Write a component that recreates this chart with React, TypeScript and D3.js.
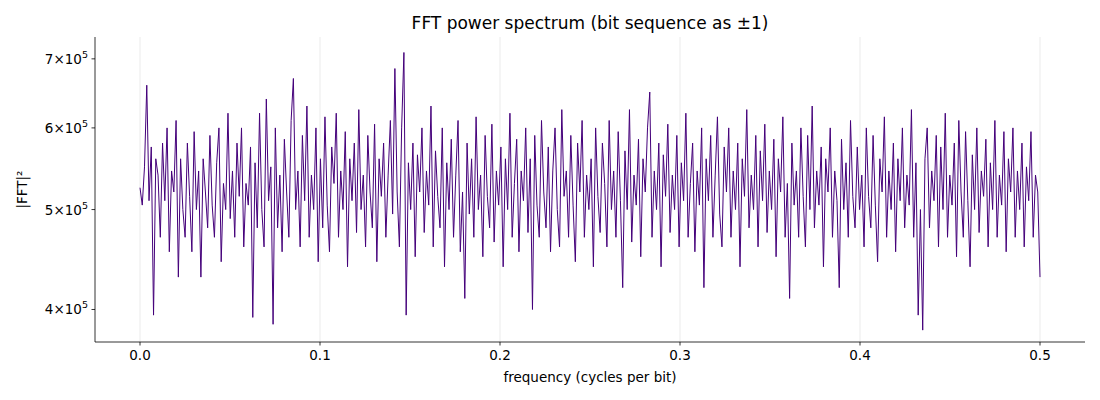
import * as d3 from "d3";

// power values in units of 1e3
const power: number[] = [
  525,505,550,660,510,575,395,560,540,470,580,510,600,455,545,520,610,430,560,500,
  470,580,515,455,595,500,545,430,560,520,480,590,505,470,555,600,445,530,500,620,
  490,545,470,580,515,600,460,530,505,575,393,555,480,620,500,460,640,510,550,387,
  600,480,540,455,585,520,470,610,670,500,545,460,590,510,630,470,540,500,600,445,
  560,480,615,505,455,575,530,620,470,545,500,595,440,560,510,580,475,625,500,540,
  460,590,520,480,605,445,560,515,580,470,540,610,495,685,520,460,600,710,395,555,
  500,580,450,565,520,600,475,545,505,630,460,570,515,480,600,440,555,500,585,470,
  540,610,455,520,410,580,495,560,470,615,500,540,450,590,515,480,605,465,545,505,
  575,440,560,500,620,470,530,585,455,545,510,600,475,560,400,590,505,470,610,520,
  480,575,455,545,600,500,460,625,515,545,470,590,505,445,580,520,610,470,540,500,
  560,440,600,515,475,580,530,460,610,500,545,470,595,510,420,570,500,625,465,540,
  505,585,450,560,520,600,650,470,545,500,580,440,565,515,605,475,540,500,590,460,
  555,510,620,470,530,580,455,545,505,600,420,560,510,590,470,540,615,495,460,575,
  520,600,470,545,500,580,440,560,515,625,480,540,500,590,460,570,510,605,475,545,
  500,585,450,560,520,615,470,530,410,580,505,545,470,600,515,460,590,500,630,480,
  545,505,575,440,560,520,600,470,545,510,420,585,500,555,470,610,515,480,575,500,
  540,460,600,515,480,590,505,445,560,520,615,470,545,500,580,455,560,510,600,480,
  540,505,625,470,555,395,500,382,560,600,480,545,510,590,460,575,500,620,470,540,
  505,580,450,610,520,470,595,510,440,565,500,600,475,545,515,585,460,555,500,610,
  470,540,505,595,455,560,520,600,470,545,500,580,460,550,510,595,470,540,520,430,
];
const xTicks = [0, 0.1, 0.2, 0.3, 0.4, 0.5];
const yTicks = [4, 5, 6, 7];

const W = 1100, H = 400;
const m = { left: 95, top: 37, right: 1085, bottom: 342 };

export default function App() {
  const x = d3.scaleLinear().domain([-0.025, 0.525]).range([m.left, m.right]);
  const y = d3.scaleLog().domain([3.72e5, 7.35e5]).range([m.bottom, m.top]);
  const n = power.length;
  const line = d3
    .line<number>()
    .x((_, i) => x((i / (n - 1)) * 0.5))
    .y((d) => y(d * 1000));
  const font = "DejaVu Sans, sans-serif";
  return (
    <svg width={W} height={H} style={{ position: "absolute", left: 0, top: 0 }} fontFamily={font}>
      <rect width={W} height={H} fill="#fff" />
      {xTicks.map((t) => (
        <line key={t} x1={x(t)} x2={x(t)} y1={m.top} y2={m.bottom} stroke="#e6e6e6" strokeWidth={0.8} />
      ))}
      <path d={line(power) || ""} fill="none" stroke="#44007a" strokeWidth={1} />
      <line x1={m.left} x2={m.left} y1={m.top} y2={m.bottom} stroke="#000" strokeWidth={0.8} />
      <line x1={m.left} x2={m.right} y1={m.bottom} y2={m.bottom} stroke="#000" strokeWidth={0.8} />
      {xTicks.map((t) => (
        <g key={t}>
          <line x1={x(t)} x2={x(t)} y1={m.bottom} y2={m.bottom + 3.5} stroke="#000" strokeWidth={0.8} />
          <text x={x(t)} y={m.bottom + 18} fontSize={13.5} textAnchor="middle">{t.toFixed(1)}</text>
        </g>
      ))}
      {yTicks.map((t) => (
        <g key={t}>
          <line x1={m.left - 3.5} x2={m.left} y1={y(t * 1e5)} y2={y(t * 1e5)} stroke="#000" strokeWidth={0.8} />
          <text x={m.left - 7} y={y(t * 1e5) + 5} fontSize={13.5} textAnchor="end">
            {t}×10<tspan dy={-6} fontSize={9.5}>5</tspan>
          </text>
        </g>
      ))}
      <text x={(m.left + m.right) / 2} y={382} fontSize={13.5} textAnchor="middle">frequency (cycles per bit)</text>
      <text transform={`translate(27,${(m.top + m.bottom) / 2}) rotate(-90)`} fontSize={13.5} textAnchor="middle">|FFT|²</text>
      <text x={(m.left + m.right) / 2} y={29} fontSize={17} textAnchor="middle">FFT power spectrum (bit sequence as ±1)</text>
    </svg>
  );
}
